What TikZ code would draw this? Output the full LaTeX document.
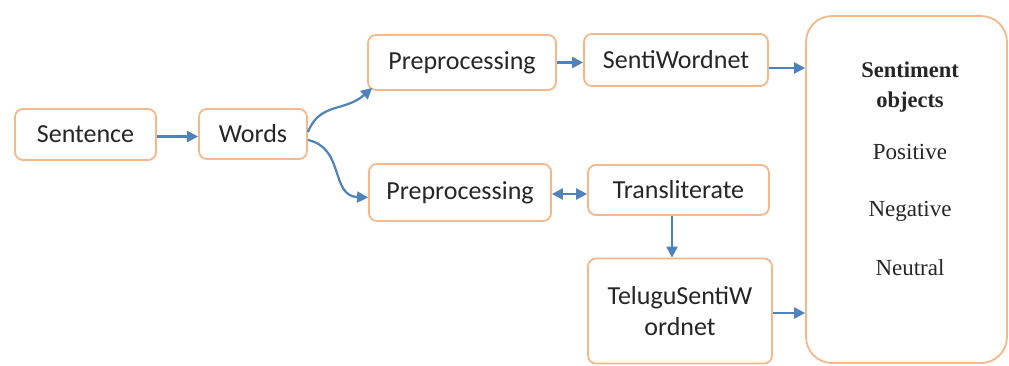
\documentclass[tikz,border=0pt]{standalone}
\usepackage{fontspec}
\setmainfont{Carlito}
\newfontfamily\serifsent{Liberation Serif}
\usetikzlibrary{arrows.meta}
\definecolor{boxorange}{RGB}{246,184,138}
\definecolor{arrowblue}{RGB}{79,129,189}
\begin{document}
\begin{tikzpicture}[x=1pt,y=-1pt,
  box/.style={draw=boxorange,line width=1.8pt,rounded corners=8pt,fill=white,
    font=\fontsize{26}{31}\selectfont,text=black!85,inner sep=0pt,align=center},
  arr/.style={draw=arrowblue,line width=2.2pt,-{Triangle[length=11pt,width=11pt]}},
  darr/.style={draw=arrowblue,line width=2.2pt,{Triangle[length=11pt,width=11pt]}-{Triangle[length=11pt,width=11pt]}},
  stxt/.style={font=\serifsent\fontsize{23}{30}\selectfont,text=black!85,align=center}]
\useasboundingbox (0,0) rectangle (1009,365);
\node[box,minimum width=141pt,minimum height=51pt] (sentence) at (85.5,134.5) {Sentence};
\node[box,minimum width=108pt,minimum height=50pt] (words) at (253,134) {Words};
\node[box,minimum width=188pt,minimum height=55pt] (pretop) at (462,62.5) {Preprocessing};
\node[box,minimum width=184pt,minimum height=52pt] (swn) at (676,60) {SentiWordnet};
\node[box,minimum width=182pt,minimum height=57pt] (prebot) at (460,192.5) {Preprocessing};
\node[box,minimum width=181pt,minimum height=50pt] (trans) at (678.5,190) {Transliterate};
\node[box,minimum width=184pt,minimum height=105pt,text depth=0pt] (tel) at (680,311) {TeluguSentiW\\ordnet};
\node[draw=boxorange,line width=1.8pt,rounded corners=26pt,fill=white,minimum width=201pt,minimum height=347pt] (sent) at (906.5,189.5) {};
\node[stxt,font=\serifsent\bfseries\fontsize{22.5}{30}\selectfont] (title) at (910,87) {Sentiment\\objects};
\node[stxt] (pos) at (910,152) {Positive};
\node[stxt] (neg) at (910,211) {Negative};
\node[stxt] (neu) at (910,268) {Neutral};
\draw[arr] ([yshift=-2pt]sentence.east) -- ([yshift=-2pt]sentence.east -| words.west);
\draw[arr] ([yshift=2pt]words.east) .. controls (320,102) and (345,112) .. ([xshift=5pt,yshift=3pt]pretop.south west);
\draw[arr] ([yshift=-6pt]words.east) .. controls (345,148) and (330,196) .. ([yshift=-5pt]prebot.west);
\draw[arr] (pretop.east) -- (pretop.east -| swn.west);
\draw[darr] ([yshift=-1.5pt]prebot.east) -- ([yshift=-1.5pt]prebot.east -| trans.west);
\draw[arr] ([xshift=-6.5pt]trans.south) -- ([xshift=-6.5pt]trans.south |- tel.north);
\draw[arr] ([yshift=-8pt]swn.east) -- ([yshift=-8pt]swn.east -| sent.west);
\draw[arr] ([yshift=-2pt]tel.east) -- ([yshift=-2pt]tel.east -| sent.west);
\end{tikzpicture}
\end{document}
